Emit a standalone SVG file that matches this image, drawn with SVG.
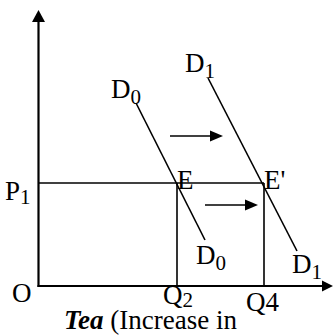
<svg xmlns="http://www.w3.org/2000/svg" width="333" height="335" viewBox="0 0 333 335">
<style>
text{font-family:"Liberation Serif","Times New Roman",serif;font-size:27px;fill:#000}
.sub{font-size:21px}
.ln{stroke:#000;stroke-width:1.6;fill:none}
.ax{stroke:#000;stroke-width:2.2;fill:none}
.ah{fill:#000}
</style>
<rect width="333" height="335" fill="#fff"/>
<g id="connectors">
<line class="ax" x1="38.5" y1="287" x2="38.5" y2="20"/>
<polygon class="ah" points="38.5,10 32,22 45,22"/>
<line class="ax" x1="37.5" y1="286" x2="324" y2="286"/>
<polygon class="ah" points="333,286 322,280.5 322,291.5"/>
<line class="ln" x1="38.5" y1="183" x2="264" y2="183"/>
<line class="ln" x1="177" y1="183" x2="177" y2="286"/>
<line class="ln" x1="264" y1="183" x2="264" y2="286"/>
<line class="ln" x1="136" y1="103" x2="205" y2="240"/>
<line class="ln" x1="208" y1="78" x2="297" y2="251"/>
<line class="ln" x1="170" y1="136" x2="212" y2="136"/>
<polygon class="ah" points="223,136 210,130.5 210,141.5"/>
<line class="ln" x1="205" y1="205" x2="247" y2="205"/>
<polygon class="ah" points="258,205 245,199.5 245,210.5"/>
</g>
<g id="D0-top"><text x="111" y="98">D<tspan class="sub" dy="6">0</tspan></text></g>
<g id="D1-top"><text x="185" y="72">D<tspan class="sub" dy="6">1</tspan></text></g>
<g id="E"><text x="177" y="189">E</text></g>
<g id="E-prime"><text x="264" y="189">E'</text></g>
<g id="P1"><text x="5" y="200">P<tspan class="sub" dy="4">1</tspan></text></g>
<g id="O"><text x="12" y="302">O</text></g>
<g id="D0-bottom"><text x="196" y="264">D<tspan class="sub" dy="6">0</tspan></text></g>
<g id="D1-bottom"><text x="292" y="273">D<tspan class="sub" dy="6">1</tspan></text></g>
<g id="Q2"><text x="163" y="304">Q<tspan class="sub" dy="3">2</tspan></text></g>
<g id="Q4"><text x="246" y="311">Q4</text></g>
<g id="caption"><text x="64" y="329" font-size="27.5"><tspan font-weight="bold" font-style="italic">Tea</tspan> (Increase in</text></g>
</svg>
